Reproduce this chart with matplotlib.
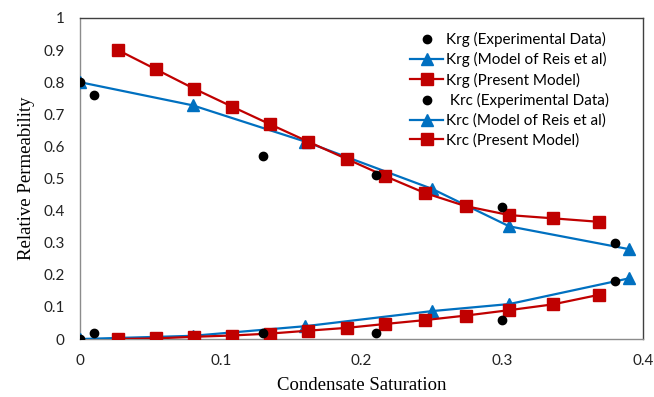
import matplotlib
matplotlib.use('Agg')
import matplotlib.pyplot as plt

# experimental data
sat_exp = [0.0, 0.01, 0.13, 0.21, 0.30, 0.38]
krg_exp = [0.80, 0.76, 0.57, 0.51, 0.41, 0.30]
krc_exp = [0.0, 0.02, 0.02, 0.02, 0.06, 0.18]

# model of Reis et al
sat_reis = [0.0, 0.08, 0.16, 0.25, 0.305, 0.39]
krg_reis = [0.80, 0.728, 0.615, 0.468, 0.351, 0.28]
krc_reis = [0.0, 0.01, 0.04, 0.087, 0.109, 0.189]

# present model
sat_pres = [0.027, 0.054, 0.081, 0.108, 0.135, 0.162, 0.19, 0.217, 0.245,
            0.274, 0.305, 0.336, 0.369]
krg_pres = [0.90, 0.84, 0.78, 0.724, 0.669, 0.615, 0.56, 0.507, 0.455,
            0.414, 0.386, 0.376, 0.365]
krc_pres = [0.0, 0.002, 0.007, 0.011, 0.017, 0.026, 0.035, 0.047, 0.059,
            0.073, 0.09, 0.108, 0.138]

blue = '#0070C0'
red = '#C00000'
tick_font = 'Lato'
label_font = 'Liberation Serif'

fig = plt.figure(figsize=(6.54, 3.97), dpi=100)
ax = fig.add_axes([0.1223, 0.146, 0.8609, 0.8087])

ax.plot(sat_exp, krg_exp, 'o', color='black', ms=6, zorder=5,
        label='Krg (Experimental Data)')
ax.plot(sat_reis, krg_reis, '-^', color=blue, lw=1.6, ms=8.5, zorder=3,
        label='Krg (Model of Reis et al)')
ax.plot(sat_pres, krg_pres, '-s', color=red, lw=1.6, ms=8, zorder=4,
        label='Krg (Present Model)')
ax.plot(sat_exp, krc_exp, 'o', color='black', ms=6, zorder=5,
        label=' Krc (Experimental Data)')
ax.plot(sat_reis, krc_reis, '-^', color=blue, lw=1.6, ms=8.5, zorder=3,
        label='Krc (Model of Reis et al)')
ax.plot(sat_pres, krc_pres, '-s', color=red, lw=1.6, ms=8, zorder=4,
        label='Krc (Present Model)')

ax.set_xlim(0, 0.4)
ax.set_ylim(0, 1)
ax.set_xticks([0, 0.1, 0.2, 0.3, 0.4])
ax.set_xticklabels(['0', '0.1', '0.2', '0.3', '0.4'])
ax.set_yticks([i / 10 for i in range(11)])
ax.set_yticklabels(['0', '0.1', '0.2', '0.3', '0.4', '0.5', '0.6', '0.7',
                    '0.8', '0.9', '1'])
ax.tick_params(length=0, pad=11, labelsize=11)
for lab in ax.get_xticklabels() + ax.get_yticklabels():
    lab.set_fontfamily(tick_font)
    lab.set_color('#222222')

for side in ['top', 'right']:
    ax.spines[side].set_color('#404040')
    ax.spines[side].set_linewidth(1.0)
for side in ['left', 'bottom']:
    ax.spines[side].set_color('#8c8c8c')
    ax.spines[side].set_linewidth(1.0)

ax.set_xlabel('Condensate Saturation', fontfamily=label_font, fontsize=13.5,
              labelpad=6)
ax.set_ylabel('Relative Permeability', fontfamily=label_font, fontsize=13.5,
              labelpad=6)

leg = ax.legend(loc='upper right', bbox_to_anchor=(0.958, 0.99), frameon=False,
                prop={'family': tick_font, 'size': 11}, handlelength=2.2,
                handletextpad=0.15, labelspacing=0.35, borderaxespad=0.3)

fig.savefig('out.png', dpi=100)
